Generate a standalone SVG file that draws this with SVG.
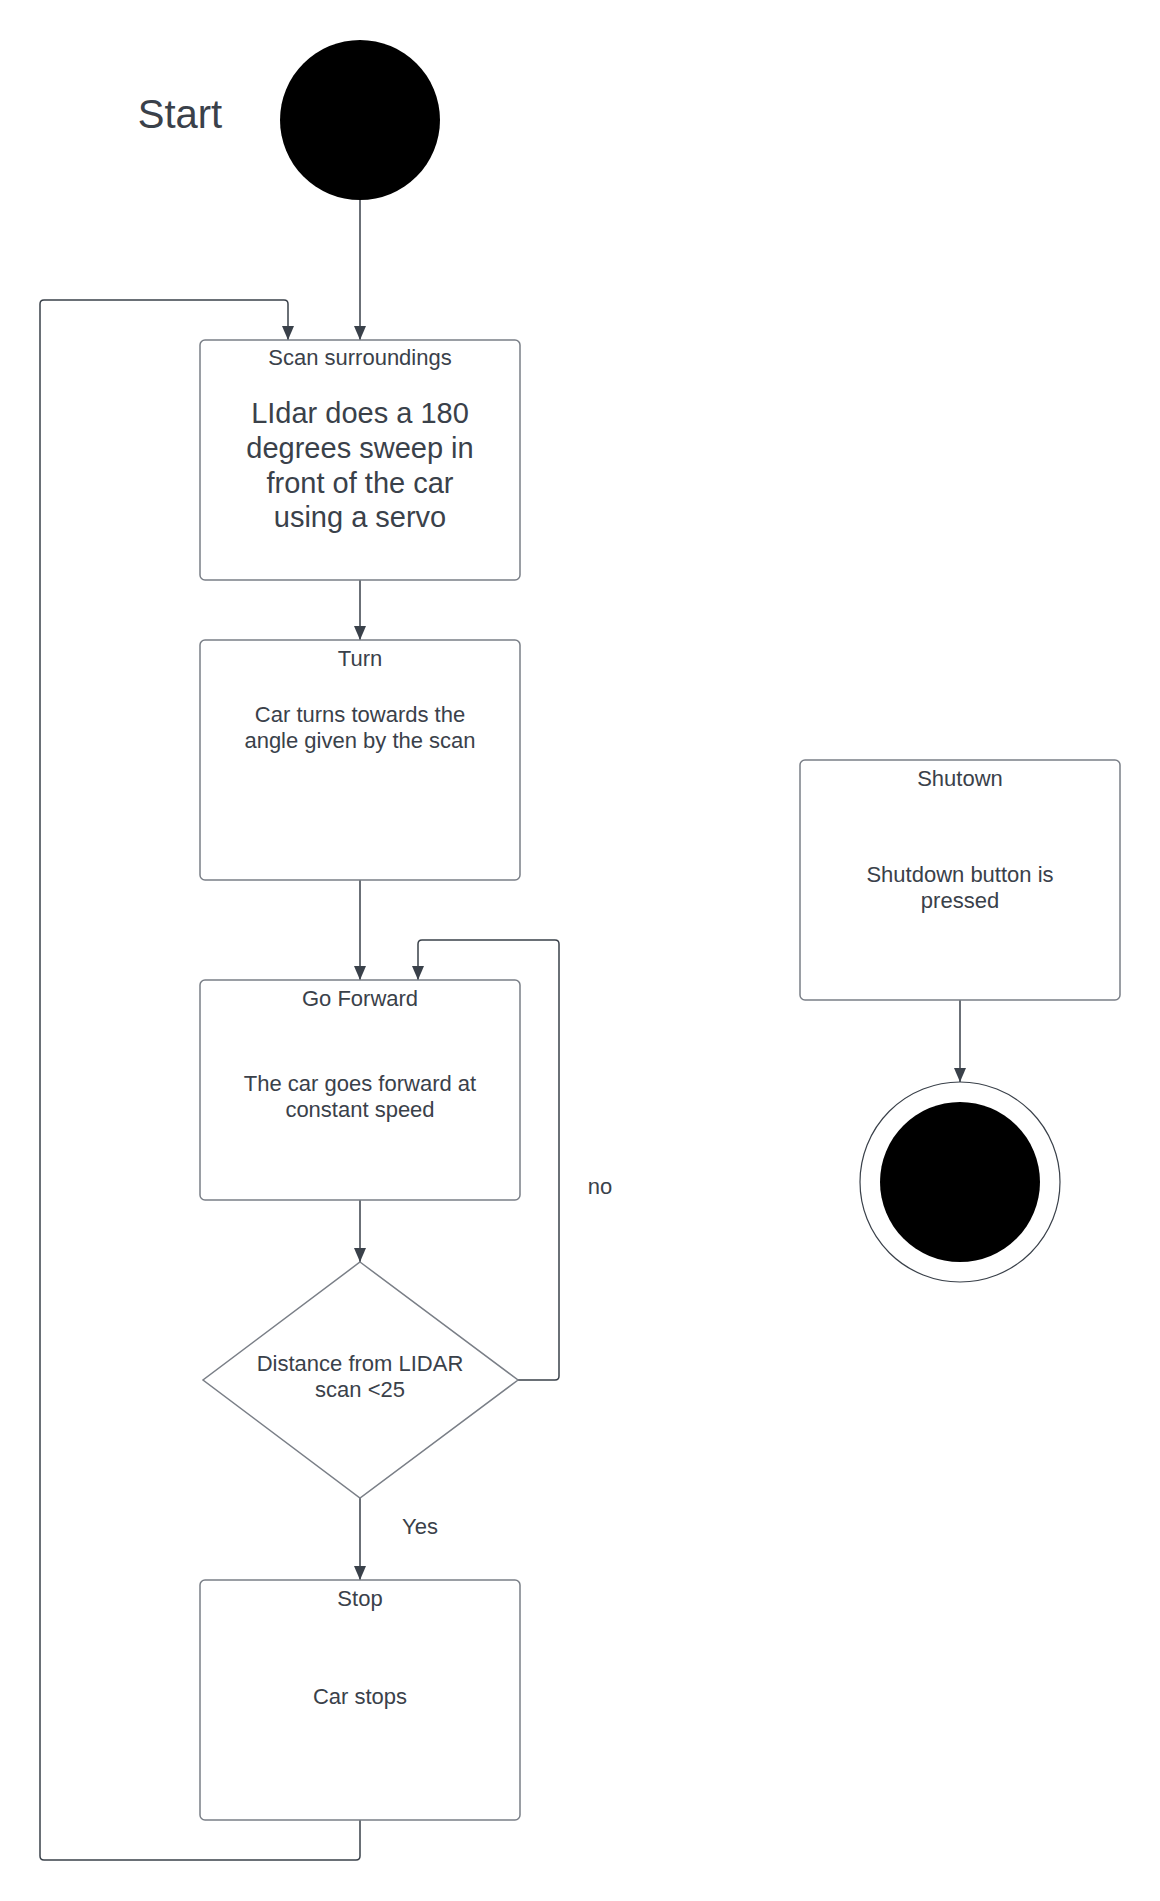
<svg xmlns="http://www.w3.org/2000/svg" width="1160" height="1901" viewBox="0 0 1160 1901">
<style>
text{font-family:"Liberation Sans",Arial,sans-serif;fill:#3a414a;text-anchor:middle}
.t{font-size:22px}
.big{font-size:29px}
.box{fill:#fff;stroke:#7a7f87;stroke-width:1.5}
.c{fill:none;stroke:#3a414a;stroke-width:1.5}
</style>
<defs>
<marker id="a" viewBox="0 0 12 14" refX="6" refY="14" markerWidth="12" markerHeight="14" markerUnits="userSpaceOnUse" orient="auto-start-reverse">
<path d="M0,0 L12,0 L6,14 Z" fill="#3a414a" transform="rotate(0)"/>
</marker>
<marker id="b" viewBox="0 0 14 12" refX="14" refY="6" markerWidth="14" markerHeight="12" markerUnits="userSpaceOnUse" orient="auto">
<path d="M0,0 L14,6 L0,12 Z" fill="#3a414a"/>
</marker>
</defs>
<rect width="1160" height="1901" fill="#fff"/>
<g id="connectors">
<path class="c" d="M360,200 V340" marker-end="url(#b)"/>
<path class="c" d="M360,580 V640" marker-end="url(#b)"/>
<path class="c" d="M360,880 V980" marker-end="url(#b)"/>
<path class="c" d="M360,1200 V1262" marker-end="url(#b)"/>
<path class="c" d="M360,1498 V1580" marker-end="url(#b)"/>
<path class="c" d="M518,1380 H555 Q559,1380 559,1376 V944 Q559,940 555,940 H422 Q418,940 418,944 V980" marker-end="url(#b)"/>
<path class="c" d="M360,1820 V1856 Q360,1860 356,1860 H44 Q40,1860 40,1856 V304 Q40,300 44,300 H284 Q288,300 288,304 V340" marker-end="url(#b)"/>
<path class="c" d="M960,1000 V1082" marker-end="url(#b)"/>
</g>
<g id="start">
<circle cx="360" cy="120" r="80" fill="#000"/>
<text x="180" y="128" style="font-size:40px">Start</text>
</g>
<g id="scan">
<rect class="box" x="200" y="340" width="320" height="240" rx="5"/>
<text class="t" x="360" y="365">Scan surroundings</text>
<text class="big" x="360" y="423">LIdar does a 180</text>
<text class="big" x="360" y="458">degrees sweep in</text>
<text class="big" x="360" y="493">front of the car</text>
<text class="big" x="360" y="527">using a servo</text>
</g>
<g id="turn">
<rect class="box" x="200" y="640" width="320" height="240" rx="5"/>
<text class="t" x="360" y="666">Turn</text>
<text class="t" x="360" y="722">Car turns towards the</text>
<text class="t" x="360" y="748">angle given by the scan</text>
</g>
<g id="forward">
<rect class="box" x="200" y="980" width="320" height="220" rx="5"/>
<text class="t" x="360" y="1006">Go Forward</text>
<text class="t" x="360" y="1091">The car goes forward at</text>
<text class="t" x="360" y="1117">constant speed</text>
</g>
<g id="decision">
<path class="box" d="M360,1262 L518,1380 L360,1498 L203,1380 Z"/>
<text class="t" x="360" y="1371">Distance from LIDAR</text>
<text class="t" x="360" y="1397">scan &lt;25</text>
</g>
<g id="labels">
<text class="t" x="600" y="1194">no</text>
<text class="t" x="420" y="1534">Yes</text>
</g>
<g id="stop">
<rect class="box" x="200" y="1580" width="320" height="240" rx="5"/>
<text class="t" x="360" y="1606">Stop</text>
<text class="t" x="360" y="1704">Car stops</text>
</g>
<g id="shutdown">
<rect class="box" x="800" y="760" width="320" height="240" rx="5"/>
<text class="t" x="960" y="786">Shutown</text>
<text class="t" x="960" y="882">Shutdown button is</text>
<text class="t" x="960" y="908">pressed</text>
</g>
<g id="end">
<circle cx="960" cy="1182" r="100" fill="#fff" stroke="#3a414a" stroke-width="1.2"/>
<circle cx="960" cy="1182" r="80" fill="#000"/>
</g>
</svg>
